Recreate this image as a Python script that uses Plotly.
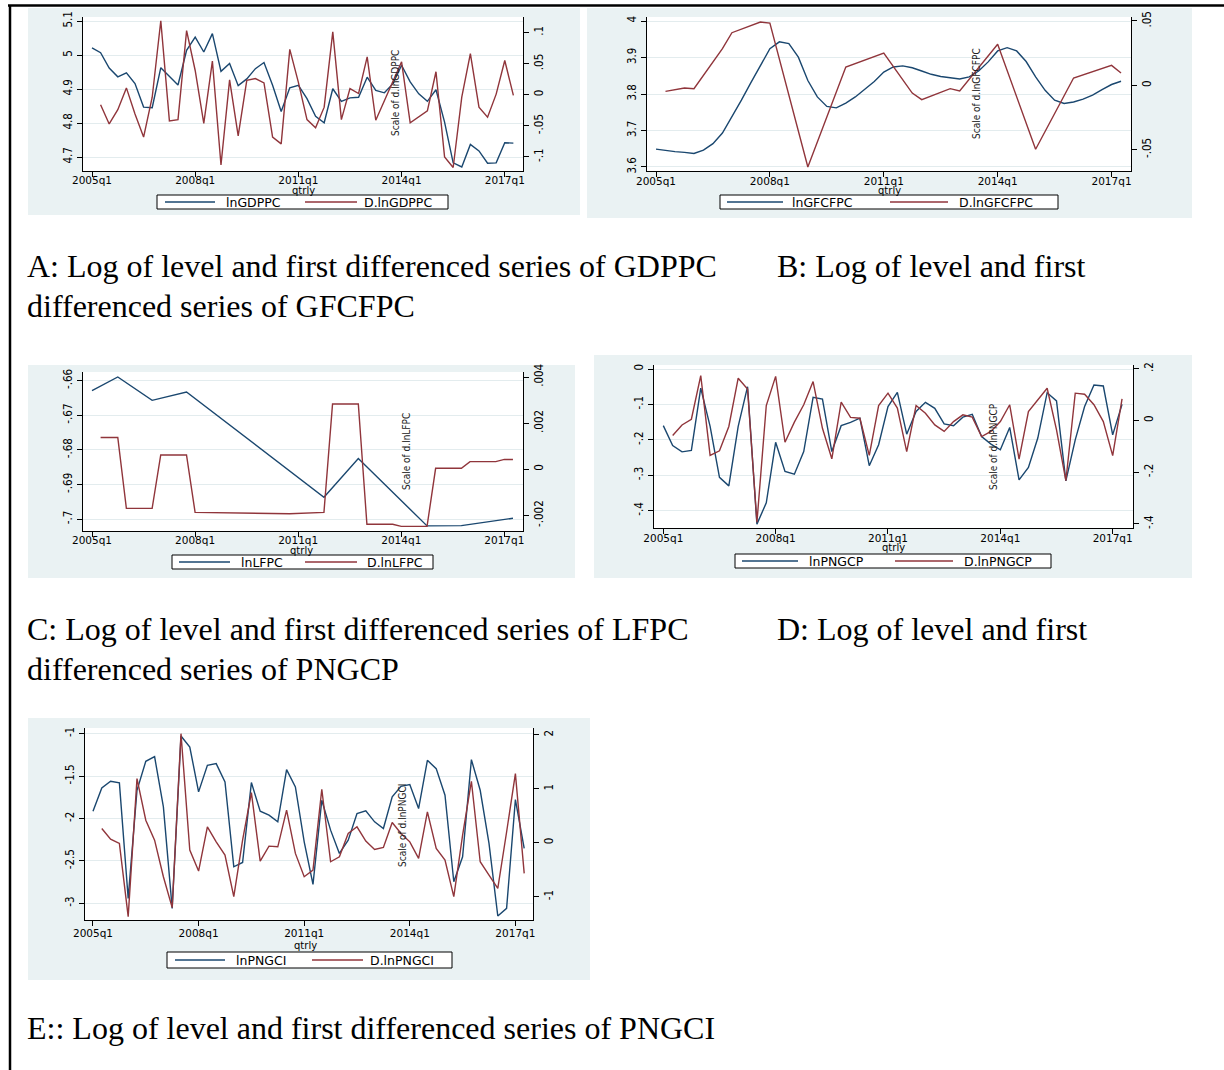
import plotly.graph_objects as go

W, H = 1224, 1070

# ---------------- data ----------------
QUARTERS = list(range(50))                     # 0 = 2005q1 ... 49 = 2017q2
QTR_TICKS = [0, 12, 24, 36, 48]
QTR_LABELS = ["2005q1", "2008q1", "2011q1", "2014q1", "2017q1"]

# Panel A
lnGDPPC = [5.021, 5.007, 4.962, 4.936, 4.948, 4.916, 4.847, 4.845, 4.963, 4.937,
           4.912, 5.014, 5.053, 5.009, 5.063, 4.952, 4.975, 4.910, 4.930, 4.960,
           4.978, 4.911, 4.834, 4.904, 4.911, 4.872, 4.820, 4.801, 4.901, 4.864,
           4.874, 4.876, 4.935, 4.896, 4.889, 4.916, 4.970, 4.921, 4.886, 4.864,
           4.898, 4.803, 4.683, 4.671, 4.737, 4.718, 4.682, 4.683, 4.742, 4.741]
d_lnGDPPC = [None, -0.016, -0.047, -0.024, 0.011, -0.031, -0.068, -0.004, 0.119, -0.042,
             -0.040, 0.103, 0.039, -0.046, 0.054, -0.113, 0.024, -0.066, 0.023, 0.026,
             0.019, -0.068, -0.079, 0.073, 0.020, -0.040, -0.053, -0.020, 0.101, -0.040,
             0.010, 0.002, 0.061, -0.041, -0.010, 0.022, 0.053, -0.045, -0.036, -0.026,
             0.037, -0.100, -0.117, -0.004, 0.066, -0.020, -0.036, 0.001, 0.055, -0.001]
GDP_L_TICKS = [4.7, 4.8, 4.9, 5.0, 5.1]
GDP_L_LABELS = ["4.7", "4.8", "4.9", "5", "5.1"]
GDP_R_TICKS = [-0.1, -0.05, 0, 0.05, 0.1]
GDP_R_LABELS = ["-.1", "-.05", "0", ".05", ".1"]

# Panel B
lnGFCFPC = [3.649, 3.645, 3.642, 3.640, 3.637, 3.646, 3.664, 3.693, 3.737, 3.783,
            3.831, 3.879, 3.924, 3.943, 3.938, 3.901, 3.837, 3.792, 3.766, 3.762,
            3.775, 3.792, 3.812, 3.834, 3.860, 3.874, 3.877, 3.872, 3.863, 3.854,
            3.848, 3.845, 3.841, 3.847, 3.863, 3.888, 3.918, 3.927, 3.918, 3.889,
            3.847, 3.810, 3.783, 3.774, 3.778, 3.786, 3.797, 3.812, 3.826, 3.835]
d_lnGFCFPC_q = [1, 3, 4, 7, 8, 11, 12, 16, 20, 24, 27, 28, 31, 32, 36, 40, 44, 48, 49]
d_lnGFCFPC = [-0.0047, -0.0021, -0.0026, 0.0285, 0.0409, 0.0492, 0.0484, -0.0635, 0.0142,
              0.0251, -0.0060, -0.0111, -0.0026, -0.0044, 0.0319, -0.0497, 0.0057, 0.0155, 0.0096]
GFC_L_TICKS = [3.6, 3.7, 3.8, 3.9, 4.0]
GFC_L_LABELS = ["3.6", "3.7", "3.8", "3.9", "4"]
GFC_R_TICKS = [-0.05, 0, 0.05]
GFC_R_LABELS = ["-.05", "0", ".05"]

# Panel C
lnLFPC_q = [0, 3, 7, 11, 27, 31, 39, 43, 49]
lnLFPC = [-0.66289, -0.65894, -0.66569, -0.66328, -0.69364, -0.68246, -0.70193, -0.70185, -0.69971]
d_lnLFPC_q = [1, 3, 4, 7, 8, 11, 12, 16, 20, 23, 27, 28, 31, 32, 35, 36, 39, 40, 43, 44, 47, 48, 49]
d_lnLFPC = [0.00138, 0.00138, -0.00170, -0.00170, 0.00062, 0.00062, -0.00187, -0.00190,
            -0.00193, -0.00193, -0.00187, 0.00283, 0.00283, -0.00239, -0.00239, -0.00248,
            -0.00248, 0.00004, 0.00004, 0.00033, 0.00033, 0.00043, 0.00042]
LF_L_TICKS = [-0.70, -0.69, -0.68, -0.67, -0.66]
LF_L_LABELS = ["-.7", "-.69", "-.68", "-.67", "-.66"]
LF_R_TICKS = [-0.002, 0, 0.002, 0.004]
LF_R_LABELS = ["-.002", "0", ".002", ".004"]

# Panel D
lnPNGCP = [-0.160, -0.216, -0.234, -0.230, -0.054, -0.162, -0.306, -0.330, -0.162, -0.050,
           -0.438, -0.378, -0.207, -0.289, -0.297, -0.233, -0.080, -0.085, -0.233, -0.160,
           -0.151, -0.139, -0.273, -0.214, -0.106, -0.066, -0.184, -0.120, -0.094, -0.111,
           -0.155, -0.160, -0.136, -0.128, -0.191, -0.212, -0.228, -0.165, -0.313, -0.278,
           -0.195, -0.067, -0.090, -0.316, -0.200, -0.106, -0.045, -0.048, -0.186, -0.100]
d_lnPNGCP = [None, -0.058, -0.017, 0.005, 0.174, -0.135, -0.117, -0.023, 0.164, 0.122,
             -0.394, 0.058, 0.171, -0.084, -0.006, 0.061, 0.151, -0.030, -0.148, 0.071,
             0.012, 0.009, -0.135, 0.058, 0.106, 0.048, -0.120, 0.058, 0.028, -0.017,
             -0.042, -0.004, 0.022, 0.013, -0.062, -0.042, -0.004, 0.061, -0.149, 0.035,
             0.080, 0.125, -0.036, -0.233, 0.106, 0.102, 0.061, -0.004, -0.136, 0.084]
PCP_L_TICKS = [-0.4, -0.3, -0.2, -0.1, 0]
PCP_L_LABELS = ["-.4", "-.3", "-.2", "-.1", "0"]
PCP_R_TICKS = [-0.4, -0.2, 0, 0.2]
PCP_R_LABELS = ["-.4", "-.2", "0", ".2"]

# Panel E
lnPNGCI = [-1.914, -1.639, -1.561, -1.580, -2.941, -1.667, -1.325, -1.271, -1.863, -3.059,
           -1.027, -1.157, -1.686, -1.373, -1.353, -1.569, -2.569, -2.518, -1.576, -1.914,
           -1.961, -2.039, -1.424, -1.627, -2.275, -2.776, -1.784, -2.137, -2.412, -2.255,
           -1.941, -1.910, -2.039, -2.118, -1.745, -1.620, -1.600, -1.882, -1.314, -1.412,
           -1.725, -2.745, -2.451, -1.306, -1.667, -2.294, -3.149, -3.059, -1.776, -2.353]
d_lnPNGCI = [None, 0.265, 0.068, -0.012, -1.368, 1.189, 0.419, 0.049, -0.628, -1.201,
             2.021, -0.136, -0.524, 0.296, 0.018, -0.228, -0.998, 0.050, 0.930, -0.339,
             -0.062, -0.074, 0.604, -0.197, -0.628, -0.505, 0.992, -0.351, -0.259, 0.173,
             0.296, 0.031, -0.123, -0.086, 0.376, 0.173, 0.018, -0.290, 0.573, -0.105,
             -0.320, -0.998, 0.142, 1.140, -0.351, -0.598, -0.844, 0.200, 1.282, -0.567]
PCI_L_TICKS = [-3, -2.5, -2, -1.5, -1]
PCI_L_LABELS = ["-3", "-2.5", "-2", "-1.5", "-1"]
PCI_R_TICKS = [-1, 0, 1, 2]
PCI_R_LABELS = ["-1", "0", "1", "2"]

CAPTIONS = [
    ("A: Log of level and first differenced series of GDPPC", 25, 266),
    ("B: Log of level and first", 775, 266),
    ("differenced series of GFCFPC", 25, 306),
    ("C: Log of level and first differenced series of LFPC", 25, 629),
    ("D: Log of level and first", 775, 629),
    ("differenced series of PNGCP", 25, 669),
    ("E:: Log of level and first differenced series of PNGCI", 25, 1028),
]

# ---------------- style ----------------
NAVY = "#1A476F"
MAROON = "#90353B"
BG = "#EAF2F3"
GRID = "#E3ECEE"
SANS = "DejaVu Sans, Liberation Sans, Arial, sans-serif"
NARROW = "Liberation Sans Narrow, DejaVu Sans Condensed, Arial Narrow, sans-serif"
SERIF = "Liberation Serif, Times New Roman, serif"


def fx(px):
    return px / W


def fy(py):
    return 1 - py / H


panels = [
    dict(bg=(28, 8, 580, 215), plot=(83, 17, 523, 171), xr=(-1.047, 50.12), tls=-6,
         yl=(4.659, 5.112), ylt=(GDP_L_TICKS, GDP_L_LABELS),
         yr=(-0.1226, 0.125), yrt=(GDP_R_TICKS, GDP_R_LABELS),
         s1=(QUARTERS, lnGDPPC, "lnGDPPC"), s2=(QUARTERS, d_lnGDPPC, "D.lnGDPPC"),
         leg=(157, 195, 448, 209), l1=(165, 215, 224), l2=(305, 357, 362),
         scale=(395, 93, "Scale of d.lnGDPPC"), qt=(303, 190.5)),
    dict(bg=(587, 8, 1192, 218), plot=(647, 17, 1131, 171), xr=(-0.948, 50.05), tls=-5,
         yl=(3.589, 4.011), ylt=(GFC_L_TICKS, GFC_L_LABELS),
         yr=(-0.0666, 0.0531), yrt=(GFC_R_TICKS, GFC_R_LABELS),
         s1=(QUARTERS, lnGFCFPC, "lnGFCFPC"), s2=(d_lnGFCFPC_q, d_lnGFCFPC, "D.lnGFCFPC"),
         leg=(720, 195, 1058, 209), l1=(727, 783, 790), l2=(890, 948, 957),
         scale=(977, 94, "Scale of d.lnGFCFPC"), qt=(889, 190.5)),
    dict(bg=(28, 365, 575, 578), plot=(83, 372, 523, 531), xr=(-1.048, 50.17), tls=-6,
         yl=(-0.7034, -0.6575), ylt=(LF_L_TICKS, LF_L_LABELS),
         yr=(-0.00268, 0.00422), yrt=(LF_R_TICKS, LF_R_LABELS),
         s1=(lnLFPC_q, lnLFPC, "lnLFPC"), s2=(d_lnLFPC_q, d_lnLFPC, "D.lnLFPC"),
         leg=(172, 555, 433, 569), l1=(179, 230, 239), l2=(305, 357, 365),
         scale=(407, 452, "Scale of d.lnLFPC"), qt=(301, 550.5)),
    dict(bg=(594, 355, 1192, 578), plot=(654, 365, 1133, 528), xr=(-0.993, 50.17), tls=-5,
         yl=(-0.449, 0.0113), ylt=(PCP_L_TICKS, PCP_L_LABELS),
         yr=(-0.416, 0.215), yrt=(PCP_R_TICKS, PCP_R_LABELS),
         s1=(QUARTERS, lnPNGCP, "lnPNGCP"), s2=(QUARTERS, d_lnPNGCP, "D.lnPNGCP"),
         leg=(735, 554, 1051, 568), l1=(742, 798, 807), l2=(895, 953, 962),
         scale=(993, 447, "Scale of d.lnPNGCP"), qt=(893, 547.5)),
    dict(bg=(28, 718, 590, 980), plot=(85, 728, 533, 920), xr=(-0.908, 50.0), tls=-2,
         yl=(-3.196, -0.933), ylt=(PCI_L_TICKS, PCI_L_LABELS),
         yr=(-1.43, 2.126), yrt=(PCI_R_TICKS, PCI_R_LABELS),
         s1=(QUARTERS, lnPNGCI, "lnPNGCI"), s2=(QUARTERS, d_lnPNGCI, "D.lnPNGCI"),
         leg=(167, 952, 452, 968), l1=(175, 225, 234), l2=(312, 363, 368),
         scale=(402, 826, "Scale of d.lnPNGCI"), qt=(305, 945)),
]

fig = go.Figure()
shapes = []
annotations = []
layout = {}

for i, p in enumerate(panels):
    xname = "x" if i == 0 else f"x{i + 1}"
    xkey = "xaxis" if i == 0 else f"xaxis{i + 1}"
    yl_n = 2 * i + 1
    yr_n = 2 * i + 2
    ylname = "y" if yl_n == 1 else f"y{yl_n}"
    ylkey = "yaxis" if yl_n == 1 else f"yaxis{yl_n}"
    yrname = f"y{yr_n}"
    yrkey = f"yaxis{yr_n}"
    pl, pt, pr, pb = p["plot"]

    # graph region and plot region backgrounds
    bx0, by0, bx1, by1 = p["bg"]
    shapes.append(dict(type="rect", xref="paper", yref="paper", layer="below",
                       x0=fx(bx0), x1=fx(bx1), y0=fy(by1), y1=fy(by0),
                       fillcolor=BG, line=dict(width=0)))
    shapes.append(dict(type="rect", xref="paper", yref="paper", layer="below",
                       x0=fx(pl), x1=fx(pr), y0=fy(pb), y1=fy(pt),
                       fillcolor="white", line=dict(width=0)))

    layout[xkey] = dict(domain=[fx(pl), fx(pr)], anchor=ylname, range=list(p["xr"]),
                        tickmode="array", tickvals=QTR_TICKS, ticktext=QTR_LABELS,
                        ticks="outside", ticklen=5, tickcolor="black", tickwidth=1,
                        ticklabelstandoff=p["tls"],
                        showline=True, linecolor="black", linewidth=1,
                        showgrid=False, zeroline=False,
                        tickfont=dict(family=SANS, size=10.5, color="black"))
    layout[ylkey] = dict(domain=[fy(pb), fy(pt)], anchor=xname, range=list(p["yl"]),
                         tickmode="array", tickvals=p["ylt"][0], ticktext=p["ylt"][1],
                         tickangle=-90, ticks="outside", ticklen=5, tickcolor="black",
                         showline=True, linecolor="black", linewidth=1,
                         showgrid=True, gridcolor=GRID, gridwidth=1, zeroline=False,
                         tickfont=dict(family=NARROW, size=11.5, color="black"))
    layout[yrkey] = dict(overlaying=ylname, side="right", anchor=xname, range=list(p["yr"]),
                         tickmode="array", tickvals=p["yrt"][0], ticktext=p["yrt"][1],
                         tickangle=-90, ticks="outside", ticklen=5, tickcolor="black",
                         showline=True, linecolor="black", linewidth=1,
                         showgrid=False, zeroline=False,
                         tickfont=dict(family=NARROW, size=11.5, color="black"))

    (x1, v1, n1), (x2, v2, n2) = p["s1"], p["s2"]
    fig.add_trace(go.Scatter(x=x1, y=v1, name=n1, mode="lines",
                             line=dict(color=NAVY, width=1.4),
                             xaxis=xname, yaxis=ylname, showlegend=False))
    fig.add_trace(go.Scatter(x=x2, y=v2, name=n2, mode="lines",
                             line=dict(color=MAROON, width=1.4),
                             xaxis=xname, yaxis=yrname, showlegend=False))

    # legend box (Stata style)
    lx0, ly0, lx1, ly1 = p["leg"]
    yc = (ly0 + ly1) / 2
    shapes.append(dict(type="rect", xref="paper", yref="paper", layer="above",
                       x0=fx(lx0), x1=fx(lx1), y0=fy(ly1), y1=fy(ly0),
                       fillcolor="white", line=dict(color="black", width=1)))
    for (a, b, t), col, name in ((p["l1"], NAVY, n1), (p["l2"], MAROON, n2)):
        shapes.append(dict(type="line", xref="paper", yref="paper", layer="above",
                           x0=fx(a), x1=fx(b), y0=fy(yc), y1=fy(yc),
                           line=dict(color=col, width=1.4)))
        annotations.append(dict(text=name, xref="paper", yref="paper", x=fx(t), y=fy(yc),
                                xanchor="left", yanchor="middle", showarrow=False,
                                font=dict(family=SANS, size=12.5, color="black")))

    # axis-2 title (drawn in the middle by Stata) and x title
    sx, sy, stext = p["scale"]
    annotations.append(dict(text=stext, xref="paper", yref="paper", x=fx(sx), y=fy(sy),
                            xanchor="center", yanchor="middle", textangle=-90, showarrow=False,
                            font=dict(family=NARROW, size=10, color="#222222")))
    qx, qy = p["qt"]
    annotations.append(dict(text="qtrly", xref="paper", yref="paper", x=fx(qx), y=fy(qy),
                            xanchor="center", yanchor="middle", showarrow=False,
                            font=dict(family=SANS, size=10, color="black")))

for text, x, y in CAPTIONS:
    annotations.append(dict(text=text, xref="paper", yref="paper", x=fx(x), y=fy(y),
                            xanchor="left", yanchor="middle", showarrow=False,
                            font=dict(family=SERIF, size=32, color="black")))

# document table borders
shapes.append(dict(type="line", xref="paper", yref="paper", x0=fx(8), x1=1.0,
                   y0=fy(5.5), y1=fy(5.5), line=dict(color="black", width=2.5)))
shapes.append(dict(type="line", xref="paper", yref="paper", x0=fx(10), x1=fx(10),
                   y0=fy(5), y1=0.0, line=dict(color="black", width=2.5)))

fig.update_layout(
    template="none",
    width=W, height=H, autosize=False,
    margin=dict(l=0, r=0, t=0, b=0, pad=0),
    paper_bgcolor="white", plot_bgcolor="rgba(0,0,0,0)",
    showlegend=False,
    shapes=shapes, annotations=annotations,
    **layout,
)

fig.write_html("out.html", config={"displayModeBar": False},
               post_script="document.body.style.margin='0px';document.body.style.overflow='hidden';")
